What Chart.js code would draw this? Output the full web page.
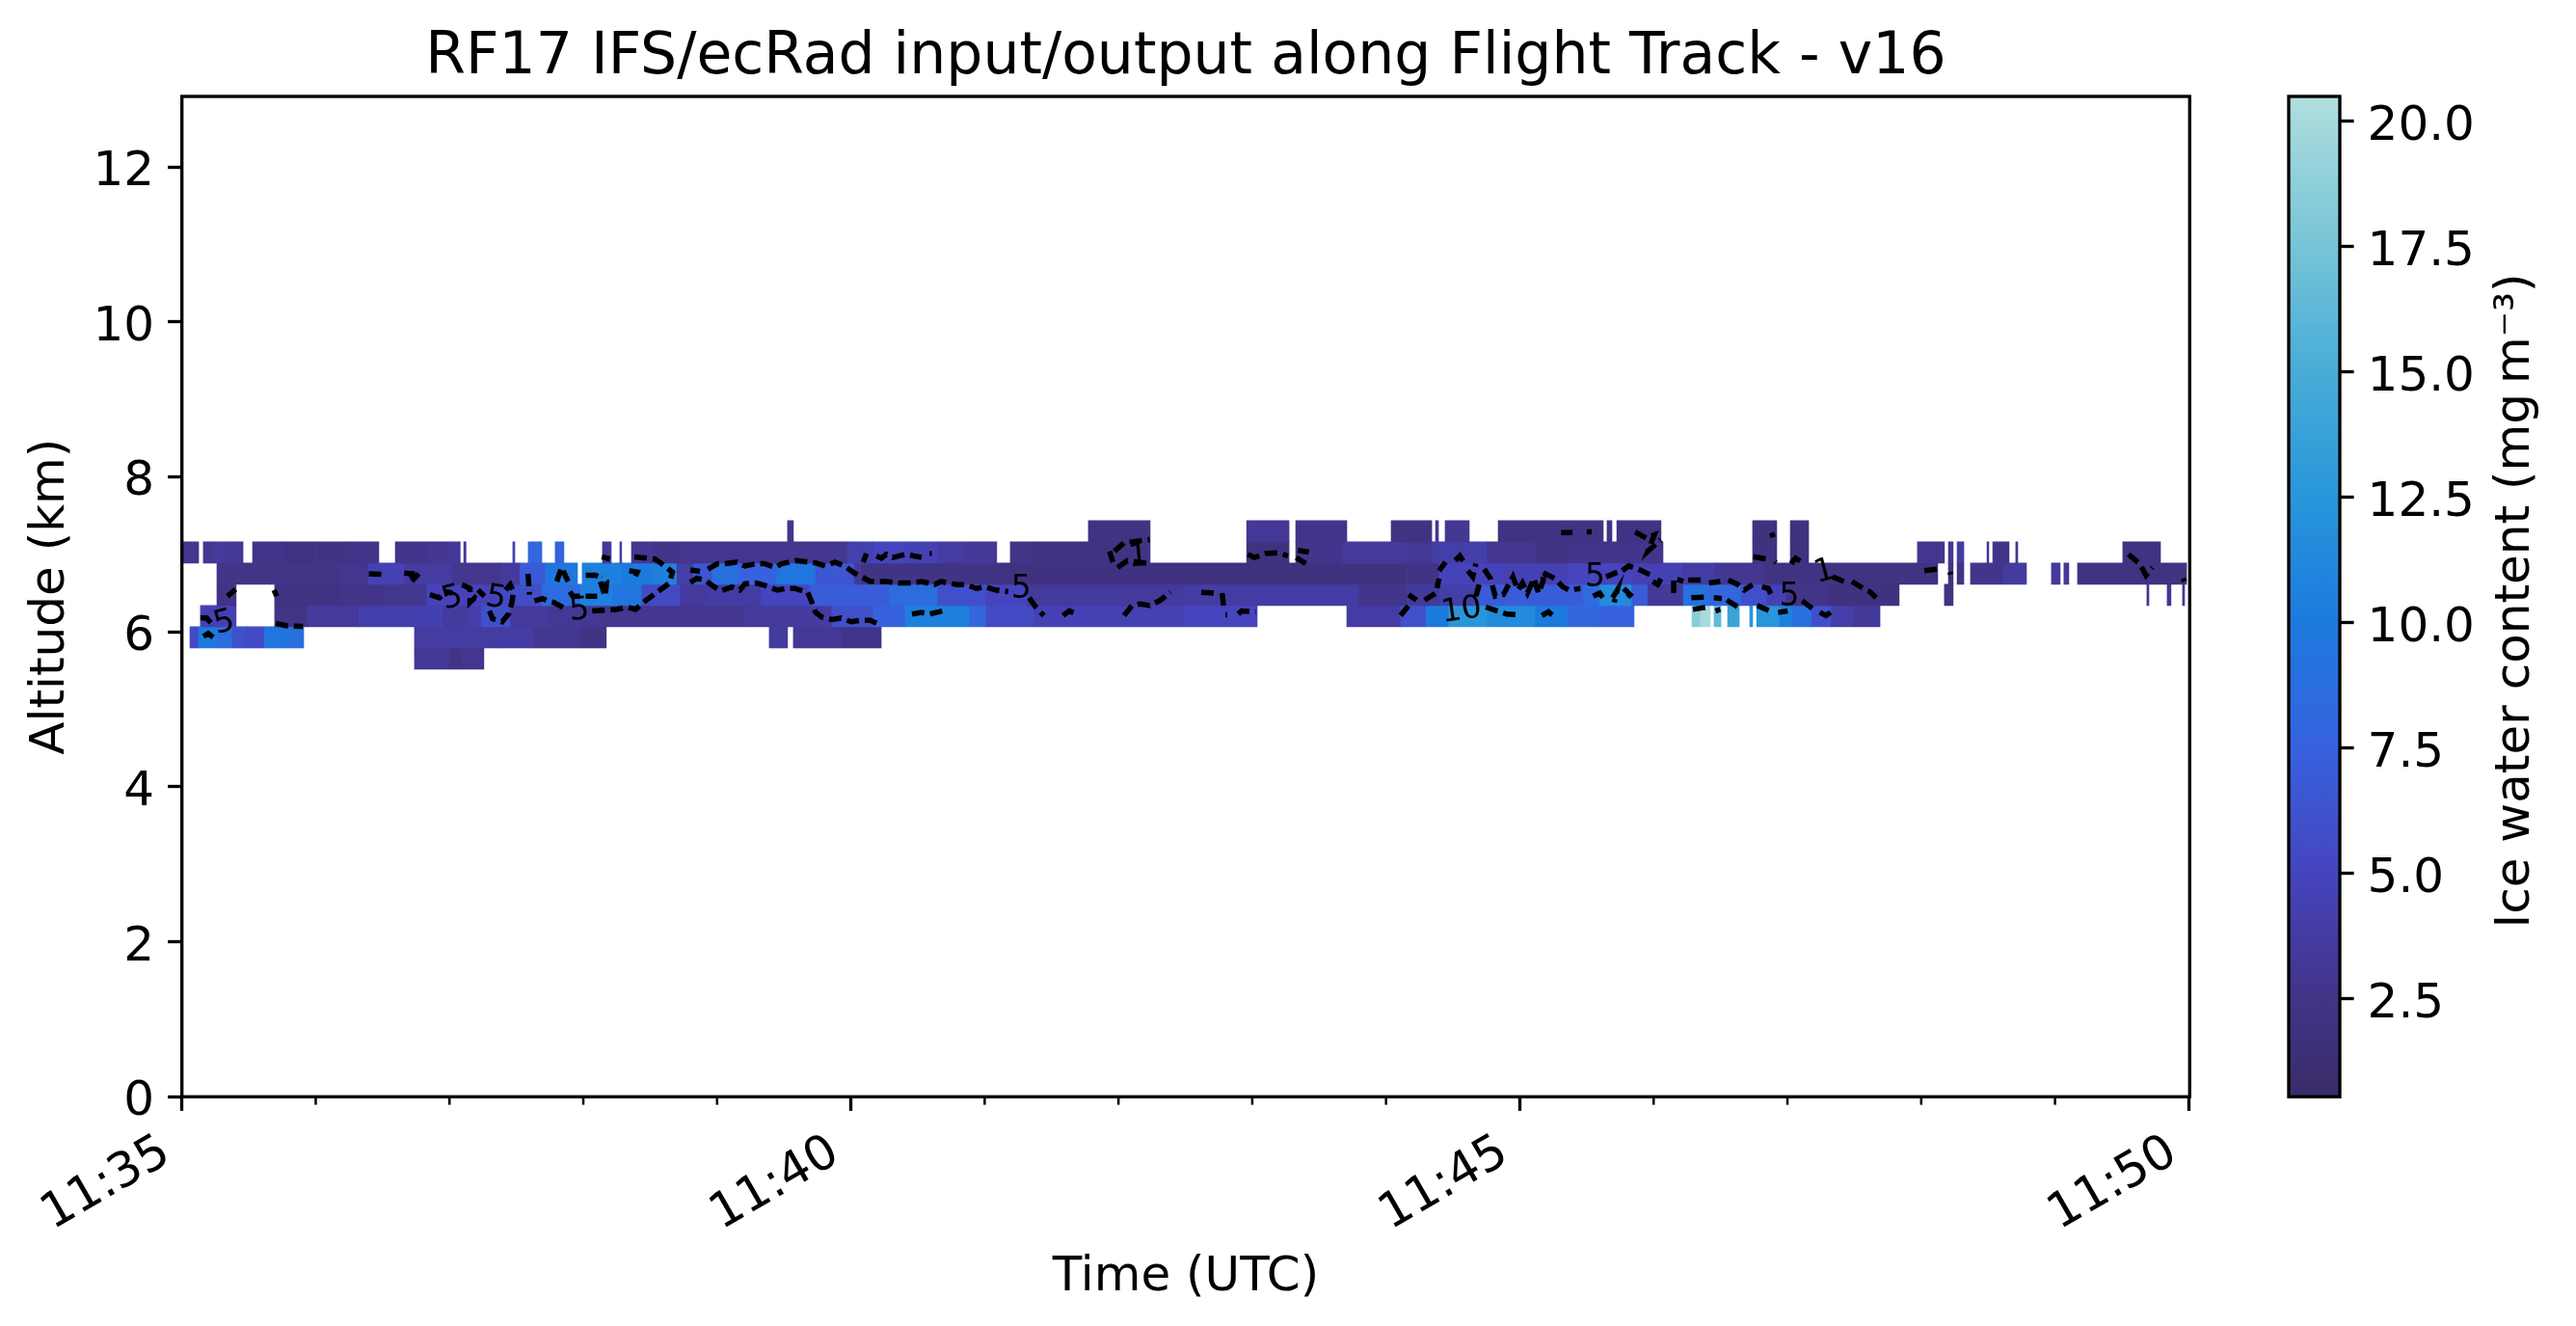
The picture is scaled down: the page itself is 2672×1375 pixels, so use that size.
<!DOCTYPE html>
<html>
<head>
<meta charset="utf-8">
<title>RF17 IWC</title>
<script src="https://cdn.jsdelivr.net/npm/chart.js@4"></script>
<style>
    body { margin: 0; background: #fff; }
    canvas { position: absolute; left: 0; top: 0; }
</style>
</head>
<body>
<canvas id="mainChart" width="2672" height="1375"></canvas>
<canvas id="barChart" width="2672" height="1375"></canvas>
<script>
//ice water content cells per model level: [start (s after 11:35), end (s), iwc (mg m-3)]
const level730 = [[271.6,274.2,2.8],[406.5,434.2,2.3],[477.5,496.5,3.2],[499.5,522.4,2.6],[542.3,560.5,2.3],[562.2,563.5,3],[566.5,577.3,3],[590.3,637.4,2.3],[639.1,641.3,2.4],[643.5,663.3,2.3],[704.4,715.2,2],[721.3,729.5,2]];
const level703 = [[0.6,7.5,2.9],[9.6,14,3],[14,20,3.4],[20,27.4,3.1],[31.7,45,2.6],[45,60,2.3],[60,75,2.4],[75,88.3,2.6],[95.7,110,2.7],[110,120,3],[120,124.8,3.3],[126.4,127.4,3.4],[148.4,149.3,4.2],[155.3,161.4,8],[167.4,171.3,7.6],[188.6,192.5,3.3],[196.4,197.2,3.8],[201.6,212,3],[212,224,2.6],[224,271,2.8],[271,298.6,2.9],[298.6,310,4.3],[310,324.5,5],[324.5,339,4.5],[339,350.5,3.7],[350.5,365.4,3.3],[371.5,382,2.5],[382,434.2,2.3],[477.5,496.5,2],[499.5,520.5,2.7],[520.5,549.4,3.5],[549.4,560.9,3.2],[560.9,585.4,4],[585.4,607,3],[607,621.4,2.3],[621.4,664.2,2.7],[704.4,715.2,2],[721.3,729.5,2],[778.3,790.4,2.8],[792.2,794.3,3],[796.1,799.1,3.8],[809.5,810.3,3],[812.1,819.4,2.6],[822.4,823.3,3],[870.4,887.3,2.2]];
const level675 = [[15.7,70.9,2.5],[70.9,83.8,2.8],[83.8,99.7,4.5],[99.7,121.3,3.7],[121.3,142.9,2.9],[142.9,151.6,3.5],[151.6,163.1,6.8],[163.1,177.4,9.5],[179.5,197.7,10.5],[197.7,210.6,10],[210.6,222,10.5],[222,229.4,4],[229.4,238,6.5],[238,249.6,9],[249.6,266.9,7.5],[266.9,284.2,9.5],[284.2,301.5,6.5],[301.5,304.3,3.5],[304.3,367.7,2.4],[367.7,549.4,2.1],[549.4,563.8,2.4],[563.8,592.6,4.8],[592.6,621.4,4.5],[621.4,650.2,5],[650.2,673.3,4.6],[673.3,687.7,3.8],[687.7,709.3,3],[709.3,787.4,2.2],[792.2,794.3,2.2],[796.1,799.1,2.4],[802.1,817,2.7],[817,827.2,3.6],[838.4,842.3,3.4],[844,846.2,3.4],[850.1,899,2.2]];
const level648 = [[15.7,24.3,2.4],[41.6,70.9,2.3],[70.9,91,2.6],[91,109.8,2.8],[109.8,142.9,4.8],[142.9,150.1,5.5],[150.1,161.6,5.8],[161.6,178.9,8.5],[178.9,193.4,10.5],[193.4,206.3,9.5],[206.3,223.6,5.5],[223.6,235.2,3.5],[235.2,259.7,3.8],[259.7,281.3,5],[281.3,317.3,7],[317.3,339,8.5],[339,360.5,6],[360.5,379.3,5],[379.3,449,3.4],[449,527.8,3.8],[527.8,549.4,2.7],[549.4,563.8,3.4],[563.8,581,4],[581,628.6,7],[628.6,635.8,8.5],[635.8,650.2,11.5],[650.2,657.4,7],[657.4,673.3,3.3],[673.3,684.8,9],[684.8,699.2,8],[699.2,710.8,6],[710.8,719.4,4.6],[719.4,738.1,2.6],[738.1,770.1,2.1],[790.4,794.3,2.2],[881.2,882.1,3],[890.3,892,3],[897.2,898.1,3]];
const level620 = [[8.3,24.3,4.4],[41.6,56.5,2.5],[56.5,79.5,3.5],[79.5,104,4.2],[104,117,4.4],[117,128.5,3.6],[128.5,134.3,4.2],[134.3,147.3,6],[147.3,164.5,3.5],[164.5,186.2,3.2],[186.2,252.5,2.9],[252.5,281.3,3.5],[281.3,291.4,3.7],[291.4,310.1,6],[310.1,324.5,7.5],[324.5,353.3,10.5],[353.3,360.5,8],[360.5,382.2,5.5],[382.2,449.3,4.6],[449.3,482.2,5],[522.4,546.5,3.8],[546.5,558,6],[558,568.1,10],[568.1,585.4,12.5],[585.4,607,11.5],[607,621.4,10],[621.4,635.8,8],[635.8,651.2,7.5],[677.2,681,18.5],[681,685.4,20],[687.1,690.2,16.5],[693.2,698.4,14],[703.1,704.4,12.5],[706.2,716.5,12.5],[716.5,722.3,10.5],[722.3,730.9,9],[730.9,739.6,6],[739.6,749.7,4],[749.7,761.5,3.3]];
const level593 = [[3.6,7.5,5.5],[7.5,16.1,10],[16.1,22.6,8.5],[22.6,29.1,6],[29.1,37,5.5],[37,46.4,9.5],[46.4,54.6,9],[104.3,142.9,3.7],[142.9,157.3,3.8],[157.3,179,3],[179,190.3,2.4],[263.4,271.6,3.6],[274.2,296,3.2],[296,313.6,2.6]];
const level565 = [[104.3,119.9,3.2],[119.9,125.6,2.4],[125.6,135.4,2.8]];
const levelAltitudes = [7.299, 7.025, 6.751, 6.477, 6.203, 5.929, 5.655];
const levelCells = [level730, level703, level675, level648, level620, level593, level565];

//contour pieces as [s, km], null breaks the line
const contourWest = [[8.3,6.18],[11.1,6.18],[13.2,6.11],null,[9.6,5.94],[11.8,5.98],[14,5.93],null,[20.4,6.46],[22.2,6.5],[24,6.55],null,[41.3,6.54],[42.5,6.46],null,[42.1,6.11],[46.4,6.08],[54.3,6.07],null,[83.8,6.75],[91,6.74],null,[99.7,6.76],[103.3,6.75],[102.6,6.64],[106.2,6.75],null,[111.2,6.48],[115.5,6.44],[118.4,6.52],[121.3,6.5],null,[125.6,6.61],[129.2,6.56],[129.2,6.38],[131.4,6.44],[133.6,6.38],null,[132.8,6.54],[135.7,6.46],null,[145.1,6.54],[147.2,6.61],[148.7,6.52],[148,6.38],[146.5,6.23],[143.6,6.13],[139.3,6.17],[137.9,6.27],null,[155.2,6.75],[155.9,6.48],null,[158.1,6.4],[161.7,6.43],[163.8,6.4],[166.7,6.38],[172.5,6.29],null,[184,6.27],[194.8,6.29],[199.8,6.32],[203.4,6.29],[207.8,6.4],[213.5,6.52],[218.6,6.63],[220,6.77],[214.2,6.9],[212.1,6.94],[202,6.97],null,[188.3,6.97],[191.9,6.94],null,[168.1,6.65],[170.3,6.83],[173.2,6.65],null,[174,6.52],[175.3,6.46],[186.2,6.46],null,[181.1,6.73],[185.4,6.73],[186.9,6.71],[189.8,6.46],[190.5,6.65],[188.3,6.71],null,[200.6,6.79],[204.2,6.77],[202.3,6.65]];
const contourCentre = [[228,6.8],[232.3,6.78],null,[235.9,6.81],[240.2,6.88],[243.8,6.88],[248.9,6.9],[252.5,6.85],[257.5,6.88],[261.1,6.88],[266.2,6.83],[269,6.88],[275.5,6.92],[284.2,6.89],[288.5,6.85],[292.8,6.9],[297.1,6.85],[301.5,6.76],[308.7,6.65],[315.9,6.65],[321.6,6.63],[327.4,6.63],[331.7,6.65],[337.5,6.61],[340.4,6.65],[347.6,6.61],[351.9,6.61],[356.2,6.56],[360.5,6.58],[364.9,6.54],[370.6,6.52],null,[380,6.44],[382.9,6.32],[386.5,6.21],null,[395.1,6.21],[398,6.27],[400.9,6.23],null,[422.5,6.21],[426.1,6.34],[429.7,6.36],[434,6.34],[438.3,6.4],[443.4,6.51],null,[228,6.64],[230.9,6.69],[234.5,6.67],[238.8,6.58],[241.7,6.53],[246.7,6.58],[250.3,6.54],[252.5,6.62],[257.5,6.63],[262.6,6.59],[266.9,6.54],[271.2,6.56],[274.8,6.56],[280.6,6.51],[282,6.42],[284.2,6.25],[287,6.19],[291.4,6.16],[295.7,6.18],[300,6.13],[304.3,6.15],[308.7,6.15],[313.7,6.08],null,[305.5,6.9],[307,7.01],null,[311.5,6.98],[313.7,6.95],[315.9,7],[318.7,6.96],[324.5,7],[331.7,6.96],null,[335.3,7.01],[336.3,7.01],null,[327.4,6.23],[331.7,6.25],[335.3,6.23],[341.1,6.27],null,[416,7.04],[417.5,6.9],null,[418.2,7.04],[422.5,7.15],[434,7.19],null,[419.6,6.83],[424,6.92],[434,6.88]];
const contourEast = [[478,7],[480.9,6.96],[486,7.01],[491.7,7.02],[496,6.98],null,[500.4,7.05],[505.4,7.03],null,[499.7,6.96],[504,6.88],null,[457.1,6.51],[463.6,6.5],null,[466.5,6.5],[467.2,6.32],null,[468,6.22],[468.7,6.22],null,[473.7,6.23],[475.2,6.27],[481.6,6.26],null,[546.5,6.21],[550.1,6.34],null,[550.1,6.48],[553.7,6.41],null,[557.3,6.41],[562.3,6.5],[563.8,6.69],null,[563.8,6.79],[566.7,6.9],null,[571,6.92],[573.1,6.98],[575.3,6.88],null,[576.7,6.79],[578.9,6.71],[580.3,6.88],null,[580.3,6.46],[581.8,6.61],null,[584,6.81],[586.8,6.69],[589,6.46],[592.6,6.48],[596.9,6.71],[599.1,6.54],[601.2,6.63],[603.4,6.5],[606.3,6.69],[608.4,6.5],[610.6,6.67],[609.9,6.77],[615.6,6.69],[619.3,6.58],[622.1,6.54],[627.2,6.56],null,[584.7,6.32],[591.1,6.26],[594,6.23],[599.8,6.22],null,[609.9,6.21],[612.8,6.26],[615.6,6.19],null,[638.7,6.71],[643.7,6.77],null,[645.9,6.79],[648.8,6.85],[653.1,6.81],[658.9,6.73],null,[632.9,6.46],[635.8,6.5],[637.3,6.44],null,[641.6,6.44],[643.7,6.54],[642.3,6.38],null,[646.6,6.56],[649.5,6.48],[647.3,6.42],null,[659.6,6.65],[661.8,6.61],[664.6,6.75],null,[669,6.5],[669,6.69],[673.3,6.65],null,[618.5,7.28],[623.6,7.28],null,[630,7.29],[632.2,7.29],null,[651.7,7.29],[656.7,7.21],[660.3,7.25],[657.4,7.04],[663.2,7.19]];
const contourFarEast = [[712.9,7.28],[713.6,7.22],null,[704.7,6.97],[710.8,6.94],null,[714.4,6.9],[714.8,6.89],null,[721.6,6.88],[723.7,6.95],[726.6,6.9],null,[740.3,6.71],[745.3,6.65],null,[748.9,6.65],[754,6.56],[756.9,6.52],[759.8,6.44],null,[675.5,6.67],[681.2,6.67],null,[684.8,6.63],[689.9,6.65],null,[693.5,6.67],[697.8,6.61],[700.7,6.54],[704.3,6.61],null,[708.6,6.58],[711.5,6.56],[712.9,6.46],null,[676.9,6.44],[683.4,6.45],null,[687,6.44],[690.6,6.43],null,[692.8,6.41],[697.8,6.32],null,[677.6,6.29],[684.1,6.32],null,[687.7,6.27],[689.9,6.29],null,[706.4,6.34],[712.2,6.27],null,[715.8,6.25],[720.1,6.27],null,[726.6,6.4],[731.7,6.29],null,[734.5,6.25],[737.4,6.21],[739.6,6.26],null,[781.4,6.79],[787.1,6.81],null,[792.9,6.77],[793.2,6.74],null,[872.9,7],[877.9,6.88],[880.8,6.73],[883.7,6.83],null,[897.4,6.69],[898.1,6.65]];
const contourPieces = [contourWest, contourCentre, contourEast, contourFarEast];

//contour labels
const contourLabelTexts = ['5', '5', '5', '5', '5', '1', '10', '5', '5', '1'];
const contourLabelSecs = [19, 121.3, 140.8, 178.2, 376.4, 429, 573.9, 633.7, 720.8, 736.7];
const contourLabelAlts = [6.11, 6.43, 6.43, 6.27, 6.55, 6.96, 6.27, 6.69, 6.44, 6.77];
const contourLabelAngles = [-15, -15, 10, -5, 0, -5, -8, 0, 0, -15];

//axes
const timeTickSecs = [0, 300, 600, 900];
const timeTickLabels = ['11:35', '11:40', '11:45', '11:50'];
const minorTickSecs = [60, 120, 180, 240, 360, 420, 480, 540, 660, 720, 780, 840];
const altitudeTicks = [0, 2, 4, 6, 8, 10, 12];
const colorbarTicks = [2.5, 5, 7.5, 10, 12.5, 15, 17.5, 20];

//colormap
const cmapValues = [0.55, 2.5, 5, 7.5, 10, 12.5, 15, 17.5, 20.5];
const cmapColors = [[58,44,105],[66,52,135],[70,68,190],[55,98,222],[28,122,222],[40,150,218],[72,172,215],[118,196,215],[176,222,222]];

const LINE = 3.33;
const FONT = 'DejaVu Sans';

function iwcColor(v) {
    let i = 0;
    while (i < cmapValues.length - 2 && v > cmapValues[i + 1]) i++;
    const f = Math.min(1, Math.max(0, (v - cmapValues[i]) / (cmapValues[i + 1] - cmapValues[i])));
    const c = cmapColors[i].map((a, k) => Math.round(a + (cmapColors[i + 1][k] - a) * f));
    return `rgb(${c[0]},${c[1]},${c[2]})`;
}

//spines of both charts
const framePlugin = {
    id: 'frame',
    afterDatasetsDraw(chart) {
        const a = chart.chartArea, ctx = chart.ctx;
        ctx.save();
        ctx.lineWidth = LINE;
        ctx.strokeStyle = '#000';
        ctx.strokeRect(a.left, a.top, a.right - a.left, a.bottom - a.top);
        ctx.restore();
    }
};

//short minute ticks and contour labels
const mainExtras = {
    id: 'mainExtras',
    afterDatasetsDraw(chart) {
        const ctx = chart.ctx, x = chart.scales.x, y = chart.scales.y;
        ctx.save();
        ctx.fillStyle = '#000';
        ctx.font = '33px "' + FONT + '"';
        ctx.textAlign = 'center';
        ctx.textBaseline = 'middle';
        contourLabelTexts.forEach((t, i) => {
            ctx.save();
            ctx.translate(x.getPixelForValue(contourLabelSecs[i]), y.getPixelForValue(contourLabelAlts[i]));
            ctx.rotate(contourLabelAngles[i] * Math.PI / 180);
            ctx.fillText(t, 0, 0);
            ctx.restore();
        });
        ctx.strokeStyle = '#000';
        ctx.lineWidth = 2.5;
        minorTickSecs.forEach(s => {
            const px = x.getPixelForValue(s);
            ctx.beginPath();
            ctx.moveTo(px, chart.chartArea.bottom);
            ctx.lineTo(px, chart.chartArea.bottom + 8.3);
            ctx.stroke();
        });
        ctx.restore();
    }
};

//right hand label of the colorbar reads upwards, which a chart.js right axis title does not do
const colorbarLabel = {
    id: 'colorbarLabel',
    afterDraw(chart) {
        const ctx = chart.ctx;
        ctx.save();
        ctx.translate(2610, 623);
        ctx.rotate(-Math.PI / 2);
        ctx.fillStyle = '#000';
        ctx.font = '50px "' + FONT + '"';
        ctx.textAlign = 'center';
        ctx.textBaseline = 'middle';
        ctx.fillText('Ice water content (mg\u2009m\u207b\u00b3)', 0, 0);
        ctx.restore();
    }
};

const cellDatasets = levelCells.map((cells, i) => ({
    type: 'bar',
    order: 2,
    data: cells.map(c => ({ y: levelAltitudes[i], x: [c[0], c[1]], iwc: c[2] })),
    backgroundColor: ctx => ctx.raw ? iwcColor(ctx.raw.iwc) : '#000',
    borderWidth: 0
}));
const contourDatasets = contourPieces.map(piece => ({
    type: 'line',
    order: 1,
    data: piece.map(p => p ? { x: p[0], y: p[1] } : { x: null, y: null }),
    borderColor: '#000',
    borderWidth: 5.5,
    borderDash: [13, 6],
    pointRadius: 0,
    tension: 0,
    spanGaps: false
}));

new Chart(document.getElementById('mainChart'), {
    type: 'bar',
    data: { datasets: [...cellDatasets, ...contourDatasets] },
    plugins: [framePlugin, mainExtras],
    options: {
        responsive: false,
        animation: false,
        devicePixelRatio: 1,
        layout: { padding: { left: 0, right: 2672 - 2271.3, top: 0, bottom: 0 } },
        datasets: { bar: { indexAxis: 'y', grouped: false, categoryPercentage: 1, barPercentage: 1 } },
        plugins: {
            legend: { display: false },
            tooltip: { enabled: false },
            title: {
                display: true,
                fullSize: false,
                text: 'RF17 IFS/ecRad input/output along Flight Track - v16',
                color: '#000',
                font: { family: FONT, size: 60, weight: 'normal' },
                padding: { top: 24, bottom: 4 }
            }
        },
        scales: {
            x: {
                type: 'linear',
                min: 0,
                max: 900.4,
                offset: false,
                afterFit: s => { s.height = 1375 - 1137.3; },
                afterBuildTicks: s => { s.ticks = timeTickSecs.map(v => ({ value: v })); },
                border: { display: false },
                grid: { offset: false, drawOnChartArea: false, tickLength: 14.6, tickWidth: LINE, tickColor: '#000' },
                ticks: {
                    autoSkip: false,
                    minRotation: 30,
                    maxRotation: 30,
                    padding: 14,
                    labelOffset: -16,
                    color: '#000',
                    font: { family: FONT, size: 50 },
                    callback: v => timeTickLabels[timeTickSecs.indexOf(v)]
                },
                title: {
                    display: true,
                    text: 'Time (UTC)',
                    color: '#000',
                    font: { family: FONT, size: 50 },
                    padding: { top: 0, bottom: 20 }
                }
            },
            y: {
                type: 'linear',
                min: 0,
                max: 12.91,
                offset: false,
                afterFit: s => { s.width = 188.7; },
                afterBuildTicks: s => { s.ticks = altitudeTicks.map(v => ({ value: v })); },
                border: { display: false },
                grid: { offset: false, drawOnChartArea: false, tickLength: 14.6, tickWidth: LINE, tickColor: '#000' },
                ticks: {
                    padding: 14,
                    labelOffset: 6,
                    color: '#000',
                    font: { family: FONT, size: 50 }
                },
                title: {
                    display: true,
                    text: 'Altitude (km)',
                    color: '#000',
                    font: { family: FONT, size: 50 },
                    padding: { top: 23, bottom: 0 }
                }
            }
        }
    }
});

//colorbar: one floating bar over the whole value range
new Chart(document.getElementById('barChart'), {
    type: 'bar',
    data: {
        labels: ['iwc'],
        datasets: [{
            data: [[cmapValues[0], cmapValues[cmapValues.length - 1]]],
            borderWidth: 0,
            categoryPercentage: 1,
            barPercentage: 1,
            backgroundColor: ctx => {
                const chart = ctx.chart;
                if (!chart.chartArea) return '#000';
                const y = chart.scales.y;
                const g = chart.ctx.createLinearGradient(0, chart.chartArea.bottom, 0, chart.chartArea.top);
                cmapValues.forEach(v => {
                    g.addColorStop((v - y.min) / (y.max - y.min), iwcColor(v));
                });
                return g;
            }
        }]
    },
    plugins: [framePlugin, colorbarLabel],
    options: {
        responsive: false,
        animation: false,
        devicePixelRatio: 1,
        layout: { padding: { left: 2374, right: 0, top: 100, bottom: 1375 - 1137.3 } },
        plugins: { legend: { display: false }, tooltip: { enabled: false }, title: { display: false } },
        scales: {
            x: { display: false },
            y: {
                position: 'right',
                min: cmapValues[0],
                max: cmapValues[cmapValues.length - 1],
                afterFit: s => { s.width = 2672 - 2427; },
                afterBuildTicks: s => { s.ticks = colorbarTicks.map(v => ({ value: v })); },
                border: { display: false },
                grid: { drawOnChartArea: false, tickLength: 14.6, tickWidth: LINE, tickColor: '#000' },
                ticks: {
                    padding: 14,
                    labelOffset: 6,
                    color: '#000',
                    font: { family: FONT, size: 50 },
                    callback: v => v.toFixed(1)
                }
            }
        }
    }
});
</script>
</body>
</html>
